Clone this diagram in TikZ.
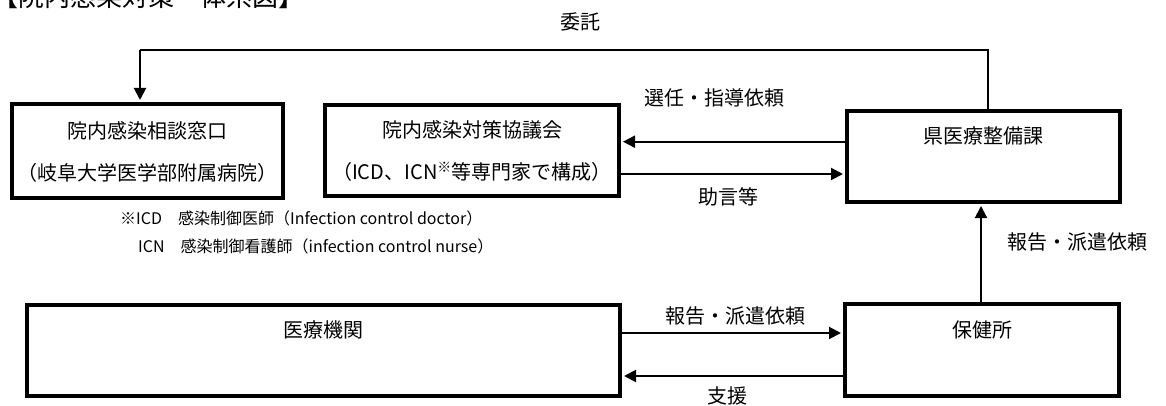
\documentclass[tikz,border=0pt]{standalone}
\usepackage{fontspec}
\setmainfont{Noto Sans CJK JP}
\usetikzlibrary{arrows.meta}
\begin{document}
\begin{tikzpicture}[x=1pt,y=-1pt,
  box/.style={draw, line width=4pt, inner sep=0pt, align=center, font=\fontsize{20}{42}\selectfont},
  lbl/.style={font=\fontsize{20}{24}\selectfont, inner sep=0pt},
  note/.style={font=\fontsize{16}{20}\selectfont, inner sep=0pt, anchor=west},
  arr/.style={line width=2pt, -{Triangle[length=12pt,width=12pt]}, shorten >=2pt},
  link/.style={line width=1.6pt}
  ]
\useasboundingbox (0,0) rectangle (1166,406);
% title (cut at top, as in the reference)
\node[anchor=base west, inner sep=0pt, font=\fontsize{26}{30}\selectfont] (title) at (-8,7) {【院内感染対策　体系図】};
% boxes
\node[box, minimum width=271pt, minimum height=94pt] (madoguchi) at (147.5,151)
  {\strut 院内感染相談窓口\\\strut （岐阜大学医学部附属病院）};
\node[box, minimum width=294pt, minimum height=91pt] (kyogikai) at (472,150.5)
  {\strut 院内感染対策協議会\\\strut （ICD、ICN\textsuperscript{※}等専門家で構成）};
\node[box, minimum width=273pt, minimum height=91pt] (ken) at (983.5,156.5)
  {\strut 県医療整備課\\\strut};
\node[box, minimum width=593pt, minimum height=91pt] (iryo) at (323.5,350.5)
  {\strut 医療機関\\\strut};
\node[box, minimum width=274pt, minimum height=92pt] (hoken) at (982,350)
  {\strut 保健所\\\strut};
% connectors
\draw[link] (ken.north -| 988,0) -- (988,50) -- (140,50);
\draw[arr] (140,50) -- (madoguchi.north -| 140,0);
\draw[arr] (ken.west |- 0,141.7) -- (kyogikai.east |- 0,141.7);
\draw[arr] (kyogikai.east |- 0,174) -- (ken.west |- 0,174);
\draw[arr] (hoken.north -| 981,0) -- (ken.south -| 981,0);
\draw[arr] (iryo.east |- 0,333) -- (hoken.west |- 0,333);
\draw[arr] (hoken.west |- 0,376) -- (iryo.east |- 0,376);
% labels
\node[lbl] (l1) at (580,22) {委託};
\node[lbl] (l2) at (714,98) {選任・指導依頼};
\node[lbl] (l3) at (728,197) {助言等};
\node[lbl] (l4) at (1077,242) {報告・派遣依頼};
\node[lbl] (l5) at (735,316) {報告・派遣依頼};
\node[lbl] (l6) at (727,396) {支援};
% footnotes
\node[note] (n1) at (120,218) {※ICD　感染制御医師（Infection control doctor）};
\node[note] (n2) at (138,246) {ICN　感染制御看護師（infection control nurse）};
\end{tikzpicture}
\end{document}
